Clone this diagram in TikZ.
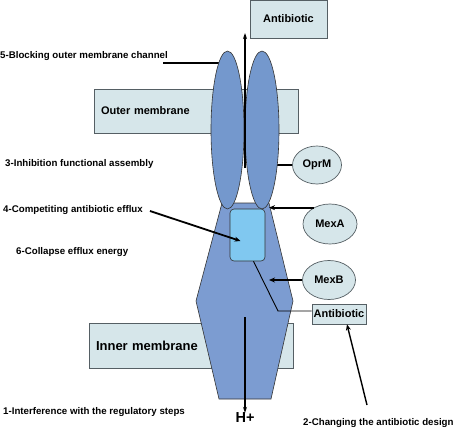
\documentclass[tikz,border=0pt]{standalone}
\usepackage{fontspec}
\setmainfont{Liberation Sans}
\usepackage{xcolor}
\definecolor{MembFill}{RGB}{214, 230, 234}
\definecolor{EdgeGray}{RGB}{85, 95, 100}
\definecolor{PoreBlue}{RGB}{116, 152, 205}
\definecolor{TrunkBlue}{RGB}{124, 156, 209}
\definecolor{PumpBlue}{RGB}{128, 200, 240}
\usetikzlibrary{shapes.geometric, arrows.meta, positioning, calc}

\begin{document}
\begin{tikzpicture}[x=1pt, y=-1pt,
            memb/.style={draw=EdgeGray, line width=0.7pt, fill=MembFill, font=\fontsize{11}{13}\selectfont\bfseries, inner sep=0pt},
            prot/.style={ellipse, draw=EdgeGray, line width=0.7pt, fill=MembFill, inner sep=0pt, font=\fontsize{11}{13}\selectfont\bfseries},
            pore/.style={ellipse, draw=black!80, line width=0.6pt, fill=PoreBlue, inner sep=0pt},
            lbl/.style={anchor=west, inner sep=0pt, font=\fontsize{9.7}{11}\selectfont\bfseries},
            conn/.style={line width=1.8pt},
            arrow/.style={-{Stealth[length=6pt, width=5pt]}, line width=1.8pt},
            flow/.style={-{Stealth[length=6pt, width=4pt]}, line width=1.1pt}
        ]
        \useasboundingbox (0,0) rectangle (453,429);

        % Membranes
        \node[memb, minimum width=204pt, minimum height=44pt, text width=190pt, inner xsep=7pt, align=left] (om) at (196,111) {Outer membrane};
        \node[memb, minimum width=204pt, minimum height=45pt, text width=190pt, inner xsep=7pt, align=left, font=\fontsize{13}{15}\selectfont\bfseries] (im) at (191,345.5) {Inner membrane};

        % Antibiotic boxes
        \node[memb, minimum width=77pt, minimum height=38pt] (ab1) at (288.5,19) {Antibiotic};
        \node[memb, minimum width=54pt, minimum height=20pt] (ab2) at (339,314) {Antibiotic};

        % Pump components
        \node[prot, minimum width=49pt, minimum height=38pt] (oprm) at (317,165) {OprM};
        \node[prot, minimum width=54pt, minimum height=40pt] (mexa) at (330,224) {MexA};
        \node[prot, minimum width=53pt, minimum height=39pt] (mexb) at (329,280) {MexB};

        % Labels
        \node[lbl] (lbl5) at (0,56) {5-Blocking outer membrane channel};
        \node[lbl] (lbl3) at (5,164) {3-Inhibition functional assembly};
        \node[lbl] (lbl4) at (3,210) {4-Competiting antibiotic efflux};
        \node[lbl] (lbl6) at (16,252) {6-Collapse efflux energy};
        \node[lbl] (lbl1) at (3,412) {1-Interference with the regulatory steps};
        \node[lbl] (lbl2) at (303,423) {2-Changing the antibiotic design};

        % Lines running under the channel
        \coordinate (b5) at (163,63);
        \draw[conn] (b5) -- (b5 -| 227,0);
        \draw[conn] (oprm.west) -- (oprm.west -| 262,0);

        % Trunk (MexB body)
        \draw[draw=black!80, line width=0.6pt, fill=TrunkBlue] (222,203) -- (269,203) -- (293,301) -- (271,399) -- (219,399) -- (196,301) -- cycle;

        % OprM channel
        \node[pore, minimum width=33pt, minimum height=158pt] (lel) at (227.5,130) {};
        \node[pore, minimum width=34pt, minimum height=158pt] (rel) at (262,130) {};

        % Binding pocket
        \node[draw=black!80, line width=0.6pt, fill=PumpBlue, rounded corners=4pt, minimum width=35pt, minimum height=52pt, inner sep=0pt] (pump) at (247.5,235) {};

        % H+ and transport arrows
        \node[inner sep=0pt, font=\fontsize{14.5}{16}\selectfont\bfseries] (hplus) at (245,418) {H+};
        \coordinate (out1) at (245,168);
        \coordinate (in1) at (245,317);
        \draw[flow] (out1) -- (out1 |- 0,33);
        \draw[flow] (in1) -- (hplus.north);

        % Arrows to the components
        \draw[arrow] (mexa.135) -- (mexa.135 -| 269,0);
        \draw[arrow] (mexb.west) -- (269,280);
        \draw[arrow] ($(lbl4.east)+(7,1)$) -- ($(pump.center)+(-7,6)$);
        \draw[line width=0.9pt] ($(pump.south)+(6,0)$) -- (278,311) -- (311.5,311);
        \draw[arrow, line width=1.4pt] (367,405) -- ($(ab2.south)+(8,0)$);

        \end{tikzpicture}
\end{document}
